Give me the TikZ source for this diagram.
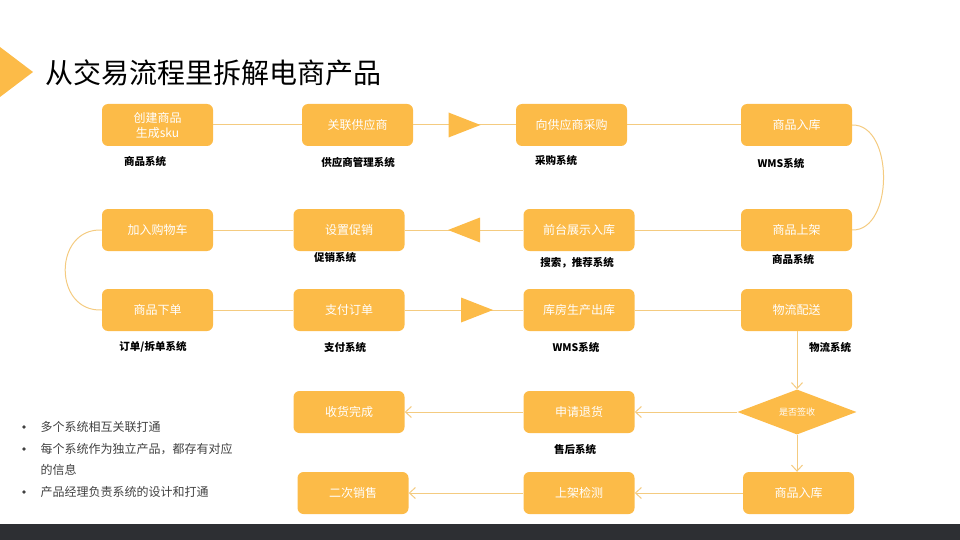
\documentclass[tikz,border=0pt]{standalone}
\usepackage{fontspec}
\newfontfamily\cjk{Noto Sans CJK SC}
\usetikzlibrary{arrows.meta,shapes.geometric,decorations.markings}
\definecolor{boxorange}{RGB}{252,187,72}
\definecolor{lineorange}{RGB}{244,203,128}
\definecolor{barcolor}{RGB}{45,47,51}
\definecolor{bullettext}{RGB}{64,64,64}
\tikzset{
  stepbox/.style={fill=boxorange, rounded corners=6pt, minimum width=111pt, minimum height=42pt,
    inner sep=0pt, text=white, align=center, font=\cjk\fontsize{12}{15}\selectfont},
  sysnote/.style={font=\cjk\bfseries\fontsize{10.5}{12}\selectfont, text=black},
  pointtext/.style={anchor=west, align=left, text=bullettext, font=\cjk\fontsize{12}{21}\selectfont},
  pointdot/.style={circle, fill=bullettext, minimum size=3.6pt, inner sep=0pt},
  flow/.style={draw=lineorange, line width=1pt},
  flowarrow/.style={flow, -{Straight Barb[length=6pt,width=11pt]}},
  midtri/.style={postaction={decorate}, decoration={markings, mark=at position #1 with
    {\fill[boxorange] (-16pt,-12.5pt) -- (16pt,0pt) -- (-16pt,12.5pt) -- cycle;}}},
}

\begin{document}
\begin{tikzpicture}[x=1pt,y=-1pt]
	%%%%% START %%%%%
	\useasboundingbox (0,0) rectangle (960,540);
	\fill[barcolor] (0,524) rectangle (960,540);
	
	% title
	\fill[boxorange] (0,47) -- (33,72) -- (0,97) -- cycle;
	\node[anchor=west, font=\cjk\fontsize{28}{30}\selectfont] (title) at (42,73) {从交易流程里拆解电商产品};
	
	% row 1
	\node[stepbox] (a1) at (157.5,125) {创建商品\\生成sku};
	\node[stepbox] (a2) at (357.5,125) {关联供应商};
	\node[stepbox] (a3) at (571.5,125) {向供应商采购};
	\node[stepbox] (a4) at (796.5,125) {商品入库};
	\node[sysnote] (sa1) at (145,162) {商品系统};
	\node[sysnote] (sa2) at (358,162) {供应商管理系统};
	\node[sysnote] (sa3) at (556,160) {采购系统};
	\node[sysnote] (sa4) at (781,163) {WMS系统};
	
	% row 2
	\node[stepbox] (b1) at (157.5,230) {加入购物车};
	\node[stepbox] (b2) at (349,230) {设置促销};
	\node[stepbox] (b3) at (579,230) {前台展示入库};
	\node[stepbox] (b4) at (796.5,230) {商品上架};
	\node[sysnote] (sb2) at (335,257) {促销系统};
	\node[sysnote] (sb3) at (577,263) {搜索，推荐系统};
	\node[sysnote] (sb4) at (793,259) {商品系统};
	
	% row 3
	\node[stepbox] (c1) at (157.5,310) {商品下单};
	\node[stepbox] (c2) at (349,310) {支付订单};
	\node[stepbox] (c3) at (579,310) {库房生产出库};
	\node[stepbox] (c4) at (796.5,310) {物流配送};
	\node[sysnote] (sc1) at (153,347) {订单/拆单系统};
	\node[sysnote] (sc2) at (345,347) {支付系统};
	\node[sysnote] (sc3) at (576,347) {WMS系统};
	\node[sysnote] (sc4) at (830,347) {物流系统};
	
	% after sale
	\node[diamond, fill=boxorange, minimum width=119pt, minimum height=45pt, inner sep=0pt,
	  text=white, font=\cjk\fontsize{9}{10}\selectfont] (q) at (797,412) {是否签收};
	\node[stepbox] (d3) at (579,412) {申请退货};
	\node[stepbox] (d2) at (349,412) {收货完成};
	\node[sysnote] (sd3) at (575,449) {售后系统};
	\node[stepbox] (e4) at (798.5,493) {商品入库};
	\node[stepbox] (e3) at (579,493) {上架检测};
	\node[stepbox] (e2) at (353,493) {二次销售};
	
	% connectors
	\draw[flow] (a1) -- (a2);
	\draw[flow, midtri=0.5] (a2) -- (a3);
	\draw[flow] (a3) -- (a4);
	\draw[flow] (a4.east) .. controls (894,124) and (894,231) .. (b4.east);
	\draw[flow] (b4) -- (b3);
	\draw[flow, midtri=0.5] (b3) -- (b2);
	\draw[flow] (b2) -- (b1);
	\draw[flow] (b1.west) .. controls (53,228) and (53,312) .. (c1.west);
	\draw[flow] (c1) -- (c2);
	\draw[flow, midtri=0.61] (c2) -- (c3);
	\draw[flow] (c3) -- (c4);
	\draw[flowarrow] (c4.south -| q.north) -- (q.north);
	\draw[flowarrow] (q.west) -- (d3.east);
	\draw[flowarrow] (d3) -- (d2);
	\draw[flowarrow] (q.south) -- (q.south |- e4.north);
	\draw[flowarrow] (e4) -- (e3);
	\draw[flowarrow] (e3) -- (e2);
	
	% notes
	\node[pointdot] (k1) at (24,427) {};
	\node[pointdot] (k2) at (24,449) {};
	\node[pointdot] (k3) at (24,492) {};
	\node[pointtext] (p1) at (37,427) {多个系统相互关联打通};
	\node[pointtext] (p2) at (37,459.5) {每个系统作为独立产品，都存有对应\\的信息};
	\node[pointtext] (p3) at (37,492) {产品经理负责系统的设计和打通};
	%%%%% END %%%%%
\end{tikzpicture}
\end{document}
